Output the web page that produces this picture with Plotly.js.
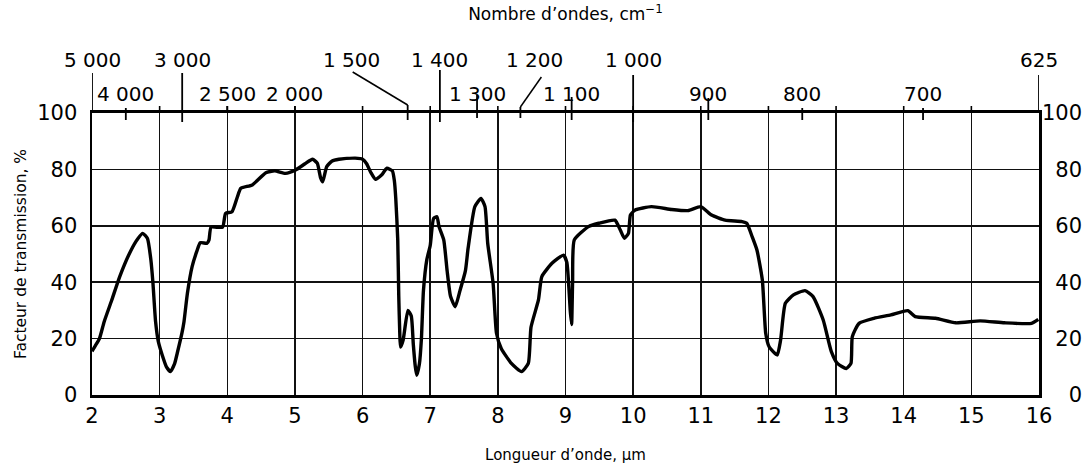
<!DOCTYPE html>
<html>
<head>
<meta charset="utf-8">
<script src="https://cdn.plot.ly/plotly-3.0.1.min.js"></script>
<style>
  html, body { margin: 0; padding: 0; background: #fff; }
  #chart { width: 1084px; height: 471px; }
</style>
</head>
<body>
<div id="chart"></div>
<script>
// ---- Data ----
const wavelengthUm = [
  2.00, 2.05, 2.11, 2.18, 2.29, 2.41, 2.57, 2.68, 2.75, 2.82, 2.87, 2.90, 2.94, 2.98,
  3.04, 3.10, 3.16, 3.22, 3.26, 3.33, 3.36, 3.41, 3.48, 3.55, 3.60, 3.70, 3.73, 3.76,
  3.93, 3.975, 4.07, 4.15, 4.20, 4.37, 4.57, 4.70, 4.86, 5.01, 5.15, 5.26, 5.33, 5.38,
  5.41, 5.47, 5.55, 5.65, 5.89, 6.00, 6.06, 6.12, 6.19, 6.28, 6.36, 6.44, 6.47, 6.49,
  6.52, 6.535, 6.55, 6.56, 6.60, 6.67, 6.72, 6.75, 6.78, 6.80, 6.84, 6.87, 6.90, 6.95,
  7.00, 7.05, 7.10, 7.13, 7.20, 7.25, 7.30, 7.37, 7.44, 7.52, 7.56, 7.66, 7.75, 7.81,
  7.85, 7.93, 7.98, 8.05, 8.20, 8.35, 8.45, 8.49, 8.60, 8.65, 8.80, 8.97, 9.02, 9.05,
  9.07, 9.09, 9.105, 9.13, 9.34, 9.49, 9.73, 9.81, 9.87, 9.93, 9.96, 10.03, 10.27, 10.57,
  10.81, 11.00, 11.16, 11.36, 11.61, 11.68, 11.76, 11.83, 11.91, 11.96, 12.01, 12.13, 12.18, 12.25,
  12.37, 12.54, 12.66, 12.81, 12.93, 13.02, 13.15, 13.22, 13.24, 13.34, 13.56, 13.81, 14.06, 14.17,
  14.47, 14.77, 15.13, 15.49, 15.89, 15.99
];
const transmissionPct = [
  15.5, 17.5, 20, 26, 33.5, 42, 51, 55.5, 57.3, 55.5, 48, 40, 26, 19,
  14, 10, 8.3, 11, 14.8, 22, 26, 36, 45.5, 51, 54, 53.8, 55, 59.5,
  59.5, 64.4, 65, 70.3, 73.3, 74.5, 78.8, 79.5, 78.6, 79.8, 82, 83.6, 82.2, 77,
  75.6, 81, 83, 83.6, 84, 83.6, 82, 79, 76.5, 78, 80.4, 79.5, 76, 70,
  55, 35, 22, 17, 19.5, 30, 28, 18, 10, 7, 11, 20, 37, 48,
  53, 62.6, 63.2, 59.7, 55, 44, 35, 31.3, 37, 44, 52, 66.8, 69.7, 66.8,
  53.8, 39.6, 21.9, 16.5, 11.2, 8.3, 11.2, 24, 33.7, 42, 46.7, 49.6, 47, 38,
  30, 25, 40, 55, 59.7, 60.9, 62, 58.5, 55.6, 57.3, 63.8, 65.6, 66.8, 65.8,
  65.4, 66.8, 63.8, 62, 61.5, 60.9, 56.1, 51.4, 40.8, 21.9, 17.1, 14.2, 19.5, 32.5,
  35.5, 37, 34.9, 26.6, 15.4, 11.2, 9.4, 11.2, 20.7, 25.4, 27.2, 28.4, 29.9, 27.8,
  27.2, 25.6, 26.3, 25.6, 25.4, 26.8
];
const xTickVals = [2, 3, 4, 5, 6, 7, 8, 9, 10, 11, 12, 13, 14, 15, 16];
const yTickVals = [0, 20, 40, 60, 80, 100];
const wavenumbers = [5000, 4000, 3000, 2500, 2000, 1500, 1400, 1300, 1200, 1100, 1000, 900, 800, 700, 625];
const wavenumberLabels = ['5 000', '4 000', '3 000', '2 500', '2 000', '1 500', '1 400', '1 300',
                          '1 200', '1 100', '1 000', '900', '800', '700', '625'];

// ---- Styling of the upper (wavenumber) scale ----
// up/down: tick length above/below the top frame (px); row: 1 = upper label row, 2 = lower
const topStyle = {
  5000: {up: 40, down: 0, row: 1},
  4000: {up: 5, down: 7, row: 2},
  3000: {up: 40, down: 9, row: 1},
  2500: {up: 7, down: 0, row: 2},
  2000: {up: 7, down: 0, row: 2},
  1500: {up: 8, down: 7, row: 1, leader: [-55, 41], shift: -56},
  1400: {up: 43, down: 9, row: 1},
  1300: {up: 18, down: 5, row: 2},
  1200: {up: 6, down: 5, row: 1, leader: [21, 36], shift: 14},
  1100: {up: 16, down: 7, row: 2},
  1000: {up: 38, down: 9, row: 1},
  900:  {up: 15, down: 7, row: 2},
  800:  {up: 5, down: 7, row: 2},
  700:  {up: 5, down: 7, row: 2},
  625:  {up: 38, down: 0, row: 1}
};

const FONT = '"DejaVu Sans", "Liberation Sans", Arial, sans-serif';
const INK = '#000';

function pxLine(xa, dx0, dy0, dx1, dy1, w) {
  return {
    type: 'line', xref: 'x', yref: 'paper',
    xsizemode: 'pixel', ysizemode: 'pixel',
    xanchor: xa, yanchor: 1,
    x0: dx0, x1: dx1, y0: dy0, y1: dy1,
    line: {color: INK, width: w || 1.8}
  };
}

const shapes = [];
// gridlines poke slightly above the top frame
xTickVals.slice(1, -1).forEach(v => shapes.push(pxLine(v, 0, 0, 0, 7, 1.6)));
// wavenumber ticks and leaders
wavenumbers.forEach(wn => {
  const s = topStyle[wn];
  const xa = 10000 / wn;
  shapes.push(pxLine(xa, 0, -s.down, 0, s.up, 1.8));
  if (s.leader) shapes.push(pxLine(xa, 0, s.up, s.leader[0], s.leader[1], 1.5));
});

const annotations = wavenumbers.map((wn, i) => {
  const s = topStyle[wn];
  return {
    x: 10000 / wn, xref: 'x', y: 1, yref: 'paper',
    text: wavenumberLabels[i], showarrow: false,
    xanchor: 'center', yanchor: 'middle',
    xshift: s.shift || 0, yshift: s.row === 1 ? 53 : 19,
    font: {family: FONT, size: 20, color: INK}
  };
});

const FIG = '\u2007';
const rightTickText = yTickVals.map(v => FIG.repeat(3 - String(v).length) + String(v));

const traces = [
  {
    x: wavelengthUm, y: transmissionPct,
    type: 'scatter', mode: 'lines',
    line: {color: INK, width: 3.4, shape: 'spline', smoothing: 0.5},
    hoverinfo: 'skip', showlegend: false
  },
  {
    x: wavelengthUm, y: transmissionPct, yaxis: 'y2',
    type: 'scatter', mode: 'lines',
    line: {color: 'rgba(0,0,0,0)', width: 0},
    hoverinfo: 'skip', showlegend: false
  }
];

const layout = {
  width: 1084, height: 471, autosize: false,
  paper_bgcolor: '#fff', plot_bgcolor: '#fff',
  margin: {l: 92, r: 45, t: 113, b: 76, pad: 0},
  font: {family: FONT, color: INK},
  title: {
    text: 'Nombre d\u2019ondes, cm<sup>\u22121</sup>',
    font: {family: FONT, size: 17, color: INK},
    x: 0.5, xref: 'paper', xanchor: 'center',
    y: 1 - 14 / 471, yref: 'container', yanchor: 'middle'
  },
  xaxis: {
    range: [2, 16], tickmode: 'array', tickvals: xTickVals,
    ticktext: xTickVals.map(String),
    ticks: '', ticklabelstandoff: 0,
    tickfont: {family: FONT, size: 21, color: INK},
    showline: true, mirror: true, linecolor: INK, linewidth: 3,
    showgrid: true, gridcolor: '#111', gridwidth: 1.5,
    zeroline: false, fixedrange: true,
    title: {text: 'Longueur d\u2019onde, \u03bcm', standoff: 23,
            font: {family: FONT, size: 15, color: INK}}
  },
  yaxis: {
    range: [0, 100], tickmode: 'array', tickvals: yTickVals,
    ticktext: yTickVals.map(String),
    ticks: '', ticklabelstandoff: 8,
    tickfont: {family: FONT, size: 21, color: INK},
    showline: true, mirror: true, linecolor: INK, linewidth: 2.5,
    showgrid: true, gridcolor: '#111', gridwidth: 1.5,
    zeroline: false, fixedrange: true,
    title: {text: 'Facteur de transmission, %', standoff: 7,
            font: {family: FONT, size: 15.5, color: INK}}
  },
  yaxis2: {
    overlaying: 'y', side: 'right', range: [0, 100],
    tickmode: 'array', tickvals: yTickVals, ticktext: rightTickText,
    ticks: '', ticklabelstandoff: 2,
    tickfont: {family: FONT, size: 21, color: INK},
    showline: false, showgrid: false, zeroline: false, fixedrange: true
  },
  shapes: shapes,
  annotations: annotations
};

Plotly.newPlot('chart', traces, layout, {displayModeBar: false, staticPlot: true});
</script>
</body>
</html>
